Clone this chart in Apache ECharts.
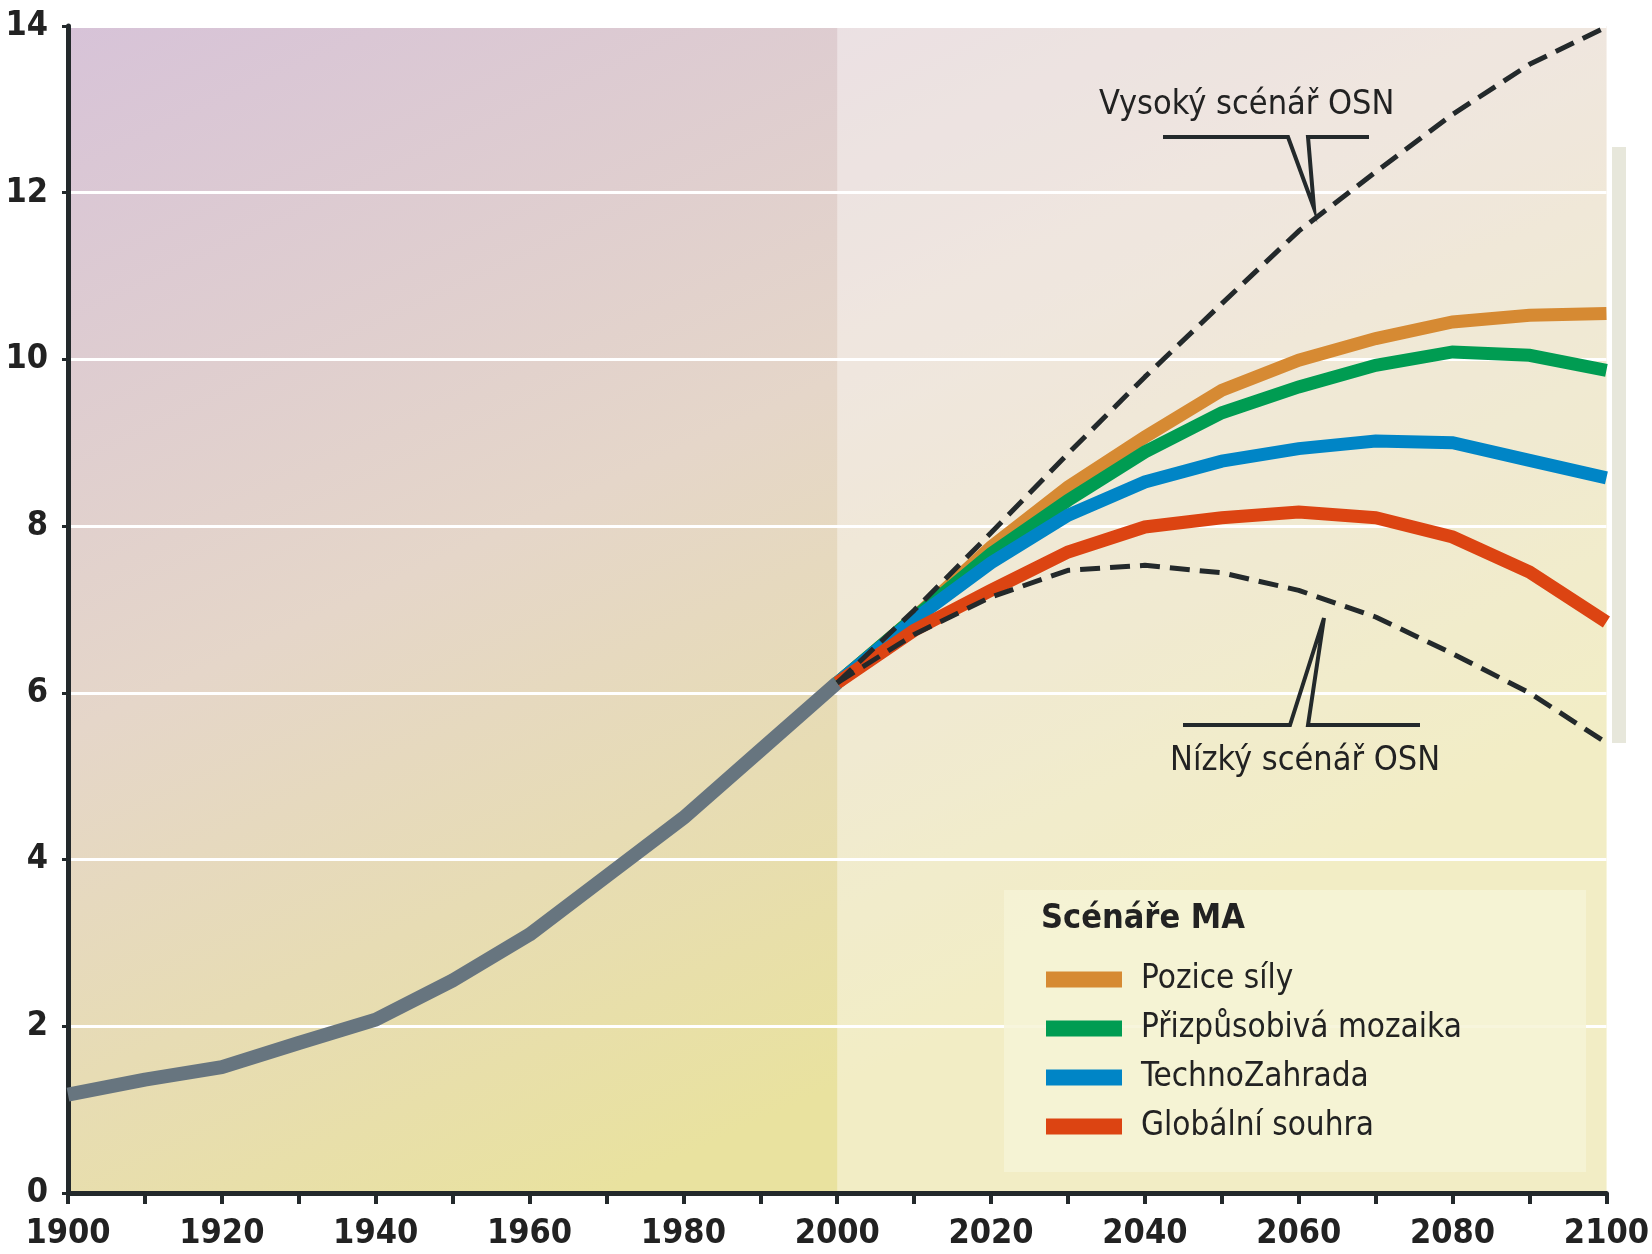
<!DOCTYPE html>
<html>
<head>
<meta charset="utf-8">
<script src="https://cdn.jsdelivr.net/npm/echarts@6/dist/echarts.min.js"></script>
<style>
  html, body { margin: 0; padding: 0; background: #fff; }
  #chart { width: 1652px; height: 1254px; }
</style>
</head>
<body>
<div id="chart"></div>
<script>
// historie 1900-2000 (mld. obyvatel)
const histYears = [1900, 1910, 1920, 1930, 1940, 1950, 1960, 1970, 1980, 1990, 2000];
const histPop = [1.18, 1.36, 1.51, 1.80, 2.08, 2.55, 3.10, 3.80, 4.50, 5.31, 6.12];

// scenare 2000-2100
const futYears = [2000, 2010, 2020, 2030, 2040, 2050, 2060, 2070, 2080, 2090, 2100];
const pozice = [6.12, 6.90, 7.75, 8.47, 9.07, 9.63, 9.99, 10.25, 10.45, 10.53, 10.55];
const mozaika = [6.12, 6.90, 7.67, 8.31, 8.89, 9.36, 9.67, 9.93, 10.09, 10.05, 9.87];
const techno = [6.12, 6.88, 7.56, 8.13, 8.53, 8.78, 8.93, 9.02, 9.00, 8.79, 8.58];
const souhra = [6.12, 6.75, 7.23, 7.69, 7.99, 8.10, 8.17, 8.10, 7.87, 7.45, 6.85];
const osnHigh = [6.12, 6.99, 7.92, 8.87, 9.79, 10.67, 11.54, 12.25, 12.94, 13.54, 13.99];
const osnLow = [6.12, 6.70, 7.15, 7.47, 7.53, 7.44, 7.23, 6.91, 6.47, 6.00, 5.40];

const scenNames = ['Pozice síly', 'Přizpůsobivá mozaika', 'TechnoZahrada', 'Globální souhra'];
const yTicks = [0, 2, 4, 6, 8, 10, 12, 14];

const FONT = '"Liberation Sans Narrow", "DejaVu Sans Condensed", sans-serif';

function pairs(xs, ys) {
    return xs.map((x, i) => [x, ys[i]]);
}

const chart = echarts.init(document.getElementById('chart'));

function scen(name, data, color, z) {
    return {
        name: name,
        type: 'line',
        data: pairs(futYears, data),
        symbol: 'none',
        z: z,
        color: color,
        lineStyle: { color: color, width: 13, join: 'miter' },
        itemStyle: { color: color }
    };
}

function dashed(name, data) {
    return {
        name: name,
        type: 'line',
        data: pairs(futYears, data),
        symbol: 'none',
        z: 10,
        lineStyle: { color: '#23292b', width: 5, type: [20, 10] }
    };
}

chart.setOption({
    animation: false,
    grid: {
        left: 68, right: 40, top: 26, bottom: 61,
        show: true,
        borderWidth: 0,
        backgroundColor: new echarts.graphic.LinearGradient(0, 0, 0.35, 1, [
            { offset: 0, color: '#d7c3d8' },
            { offset: 0.5, color: '#e5d6c9' },
            { offset: 1, color: '#e9e29f' }
        ])
    },
    xAxis: {
        type: 'value',
        z: 20,
        min: 1900, max: 2100, interval: 10,
        axisLine: { lineStyle: { color: '#23292b', width: 5 } },
        axisTick: { length: 11, lineStyle: { color: '#23292b', width: 4 } },
        splitLine: { show: false },
        axisLabel: {
            margin: 24,
            fontFamily: FONT, fontSize: 34, fontWeight: 'bold', color: '#222',
            formatter: v => (v % 20 === 0 ? String(v) : '')
        }
    },
    yAxis: {
        type: 'value',
        min: yTicks[0], max: yTicks[yTicks.length - 1], interval: 2,
        axisLine: { show: true, lineStyle: { color: '#23292b', width: 5 } },
        axisTick: { show: true, length: 6, lineStyle: { color: '#23292b', width: 3 } },
        splitLine: { lineStyle: { color: '#ffffff', width: 3 } },
        axisLabel: {
            margin: 20,
            fontFamily: FONT, fontSize: 34, fontWeight: 'bold', color: '#222'
        }
    },
    legend: {
        data: scenNames,
        orient: 'vertical',
        left: 1041, top: 954,
        icon: 'rect',
        itemWidth: 76, itemHeight: 16,
        itemGap: 8,
        itemStyle: { borderWidth: 0 },
        lineStyle: { width: 0 },
        textStyle: {
            fontFamily: FONT, fontSize: 33, color: '#222',
            lineHeight: 41, padding: [0, 0, 0, 14]
        }
    },
    graphic: [
        // svetly pruh vpravo
        { type: 'rect', shape: { x: 1612, y: 147, width: 14, height: 596 }, style: { fill: '#e7e7db' }, z: 0 },
        // ramecek legendy
        { type: 'rect', shape: { x: 1004, y: 890, width: 582, height: 282 }, style: { fill: 'rgba(246,243,214,0.85)' }, z: 3 },
        { type: 'text', x: 1041, y: 919, z: 4,
          style: { text: 'Scénáře MA', font: 'bold 34px ' + FONT, fill: '#222', textVerticalAlign: 'middle' } },
        // popisky OSN
        { type: 'text', x: 1099, y: 105, z: 12,
          style: { text: 'Vysoký scénář OSN', font: '34px ' + FONT, fill: '#222', textVerticalAlign: 'middle' } },
        { type: 'polyline', z: 12,
          shape: { points: [[1163, 137], [1288, 137], [1314, 208], [1308, 137], [1369, 137]] },
          style: { stroke: '#23292b', lineWidth: 4, fill: null } },
        { type: 'text', x: 1170, y: 761, z: 12,
          style: { text: 'Nízký scénář OSN', font: '34px ' + FONT, fill: '#222', textVerticalAlign: 'middle' } },
        { type: 'polyline', z: 12,
          shape: { points: [[1183, 725], [1290, 725], [1324, 618], [1308, 725], [1420, 725]] },
          style: { stroke: '#23292b', lineWidth: 4, fill: null } }
    ],
    series: [
        {
            name: 'Historie',
            type: 'line',
            data: pairs(histYears, histPop),
            symbol: 'none',
            z: 5,
            lineStyle: { color: '#67757f', width: 14 },
            markArea: {
                silent: true,
                itemStyle: { color: 'rgba(255,255,255,0.4)' },
                data: [[{ xAxis: 2000 }, { xAxis: 2100 }]]
            }
        },
        scen(scenNames[0], pozice, '#d68a33', 6),
        scen(scenNames[1], mozaika, '#009c52', 7),
        scen(scenNames[2], techno, '#0085c6', 8),
        scen(scenNames[3], souhra, '#dc4412', 9),
        dashed('Vysoký scénář OSN', osnHigh),
        dashed('Nízký scénář OSN', osnLow)
    ]
});
</script>
</body>
</html>
